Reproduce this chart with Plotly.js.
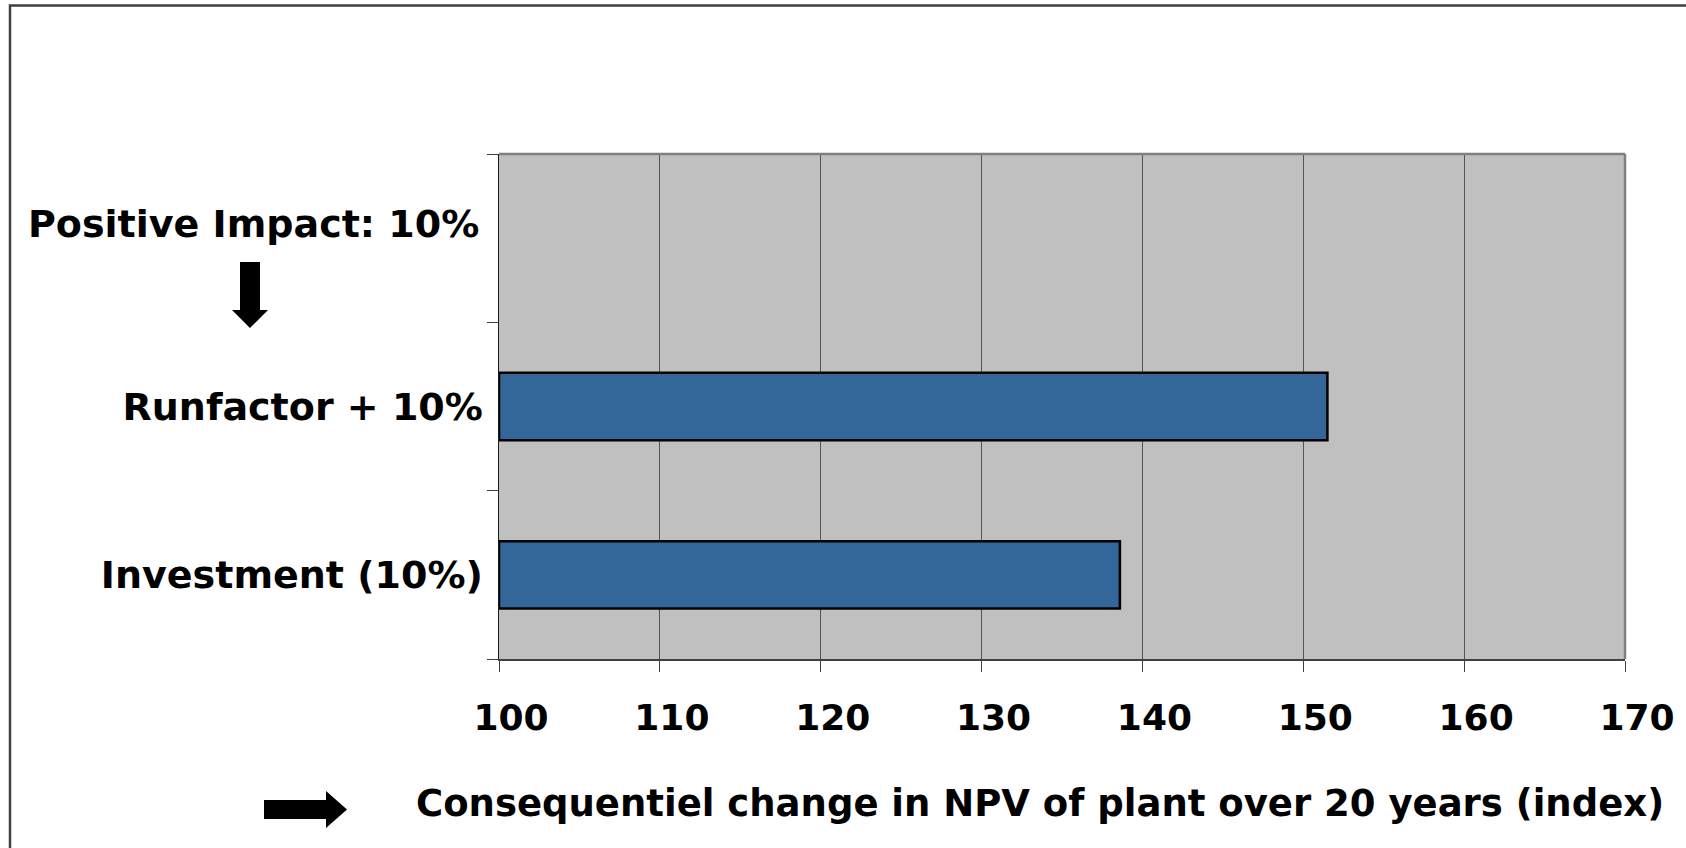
<!DOCTYPE html>
<html>
<head>
<meta charset="utf-8">
<script src="https://cdn.plot.ly/plotly-3.0.1.min.js"></script>
<style>
  html, body { margin: 0; padding: 0; background: #ffffff; }
  #chart { width: 1686px; height: 848px; }
</style>
</head>
<body>
<div id="chart"></div>
<script>
// Sensitivity rows, bottom to top; the top row only carries the header.
const rows = ['Investment (10%)', 'Runfactor + 10%', 'Positive Impact: 10%'];
// Resulting NPV index per row (plant over 20 years, base = 100).
const npvIndex = [138.6, 151.5, null];
const baseIndex = 100;
const axisMax = 170;
const axisStep = 10;
const headerText = 'Positive Impact: 10%';
const axisTitle = 'Consequentiel change in NPV of plant over 20 years (index)';

const W = 1686, H = 848;
const M = { l: 499, r: 61, t: 154, b: 189 };
const pw = W - M.l - M.r, ph = H - M.t - M.b;
// pixel -> paper fraction helpers for the decorations around the plot
const fx = px => (px - M.l) / pw;
const fy = py => (H - M.b - py) / ph;
const path = pts => 'M' + pts.map(p => fx(p[0]).toFixed(5) + ',' + fy(p[1]).toFixed(5)).join(' L') + ' Z';

const FONT = 'DejaVu Sans, Verdana, sans-serif';

const trace = {
  type: 'bar',
  orientation: 'h',
  y: rows,
  x: npvIndex.map(v => (v === null ? null : v - baseIndex)),
  base: baseIndex,
  width: 0.4,
  marker: { color: '#336699', line: { color: '#000000', width: 2.5 } },
  hoverinfo: 'skip'
};

// down arrow under the header, right arrow before the axis title
const downArrow = [[240, 262], [260, 262], [260, 310], [268, 310], [250, 328], [232, 310], [240, 310]];
const rightArrow = [[264, 800], [326, 800], [326, 791], [347, 809.5], [326, 828], [326, 819], [264, 819]];

const layout = {
  width: W,
  height: H,
  margin: M,
  paper_bgcolor: '#ffffff',
  plot_bgcolor: '#C0C0C0',
  showlegend: false,
  font: { family: FONT, color: '#000000' },
  xaxis: {
    range: [baseIndex, axisMax],
    tick0: baseIndex,
    dtick: axisStep,
    showgrid: true,
    gridcolor: '#555555',
    gridwidth: 1,
    zeroline: false,
    ticks: 'outside',
    ticklen: 11,
    tickwidth: 1,
    tickcolor: '#404040',
    ticklabelshift: 12,
    ticklabelstandoff: 15,
    tickfont: { family: FONT, size: 36, weight: 700, color: '#000000' },
    showline: true,
    linecolor: '#404040',
    linewidth: 1.5
  },
  yaxis: {
    type: 'category',
    categoryorder: 'array',
    categoryarray: rows,
    range: [-0.5, rows.length - 0.5],
    tickson: 'boundaries',
    ticks: 'outside',
    ticklen: 11,
    tickwidth: 1,
    tickcolor: '#404040',
    ticklabelstandoff: 7,
    showgrid: false,
    zeroline: false,
    labelalias: { [headerText]: '' },
    tickfont: { family: FONT, size: 38, weight: 700, color: '#000000' },
    showline: true,
    linecolor: '#1a1a1a',
    linewidth: 1.5
  },
  shapes: [
    // outer frame
    { type: 'rect', xref: 'paper', yref: 'paper', x0: fx(10), y0: fy(5.5), x1: fx(1720), y1: fy(880),
      line: { color: '#404040', width: 2.5 }, fillcolor: 'rgba(0,0,0,0)', layer: 'below' },
    // top and right plot border
    { type: 'line', xref: 'paper', yref: 'paper', x0: 0, x1: 1, y0: 1, y1: 1,
      line: { color: '#808080', width: 2.5 }, layer: 'above' },
    { type: 'line', xref: 'paper', yref: 'paper', x0: 1, x1: 1, y0: 0, y1: 1,
      line: { color: '#808080', width: 2.5 }, layer: 'above' },
    { type: 'path', xref: 'paper', yref: 'paper', path: path(downArrow),
      fillcolor: '#000000', line: { width: 0 }, layer: 'above' },
    { type: 'path', xref: 'paper', yref: 'paper', path: path(rightArrow),
      fillcolor: '#000000', line: { width: 0 }, layer: 'above' }
  ],
  annotations: [
    { xref: 'paper', yref: 'paper', x: fx(253), y: fy(224), xanchor: 'center', yanchor: 'middle',
      text: headerText, showarrow: false,
      font: { family: FONT, size: 38, weight: 700, color: '#000000' } },
    { xref: 'paper', yref: 'paper', x: fx(1040), y: fy(803), xanchor: 'center', yanchor: 'middle',
      text: axisTitle, showarrow: false,
      font: { family: FONT, size: 37, weight: 700, color: '#000000' } }
  ]
};

Plotly.newPlot('chart', [trace], layout, { displayModeBar: false, staticPlot: true });
</script>
</body>
</html>
